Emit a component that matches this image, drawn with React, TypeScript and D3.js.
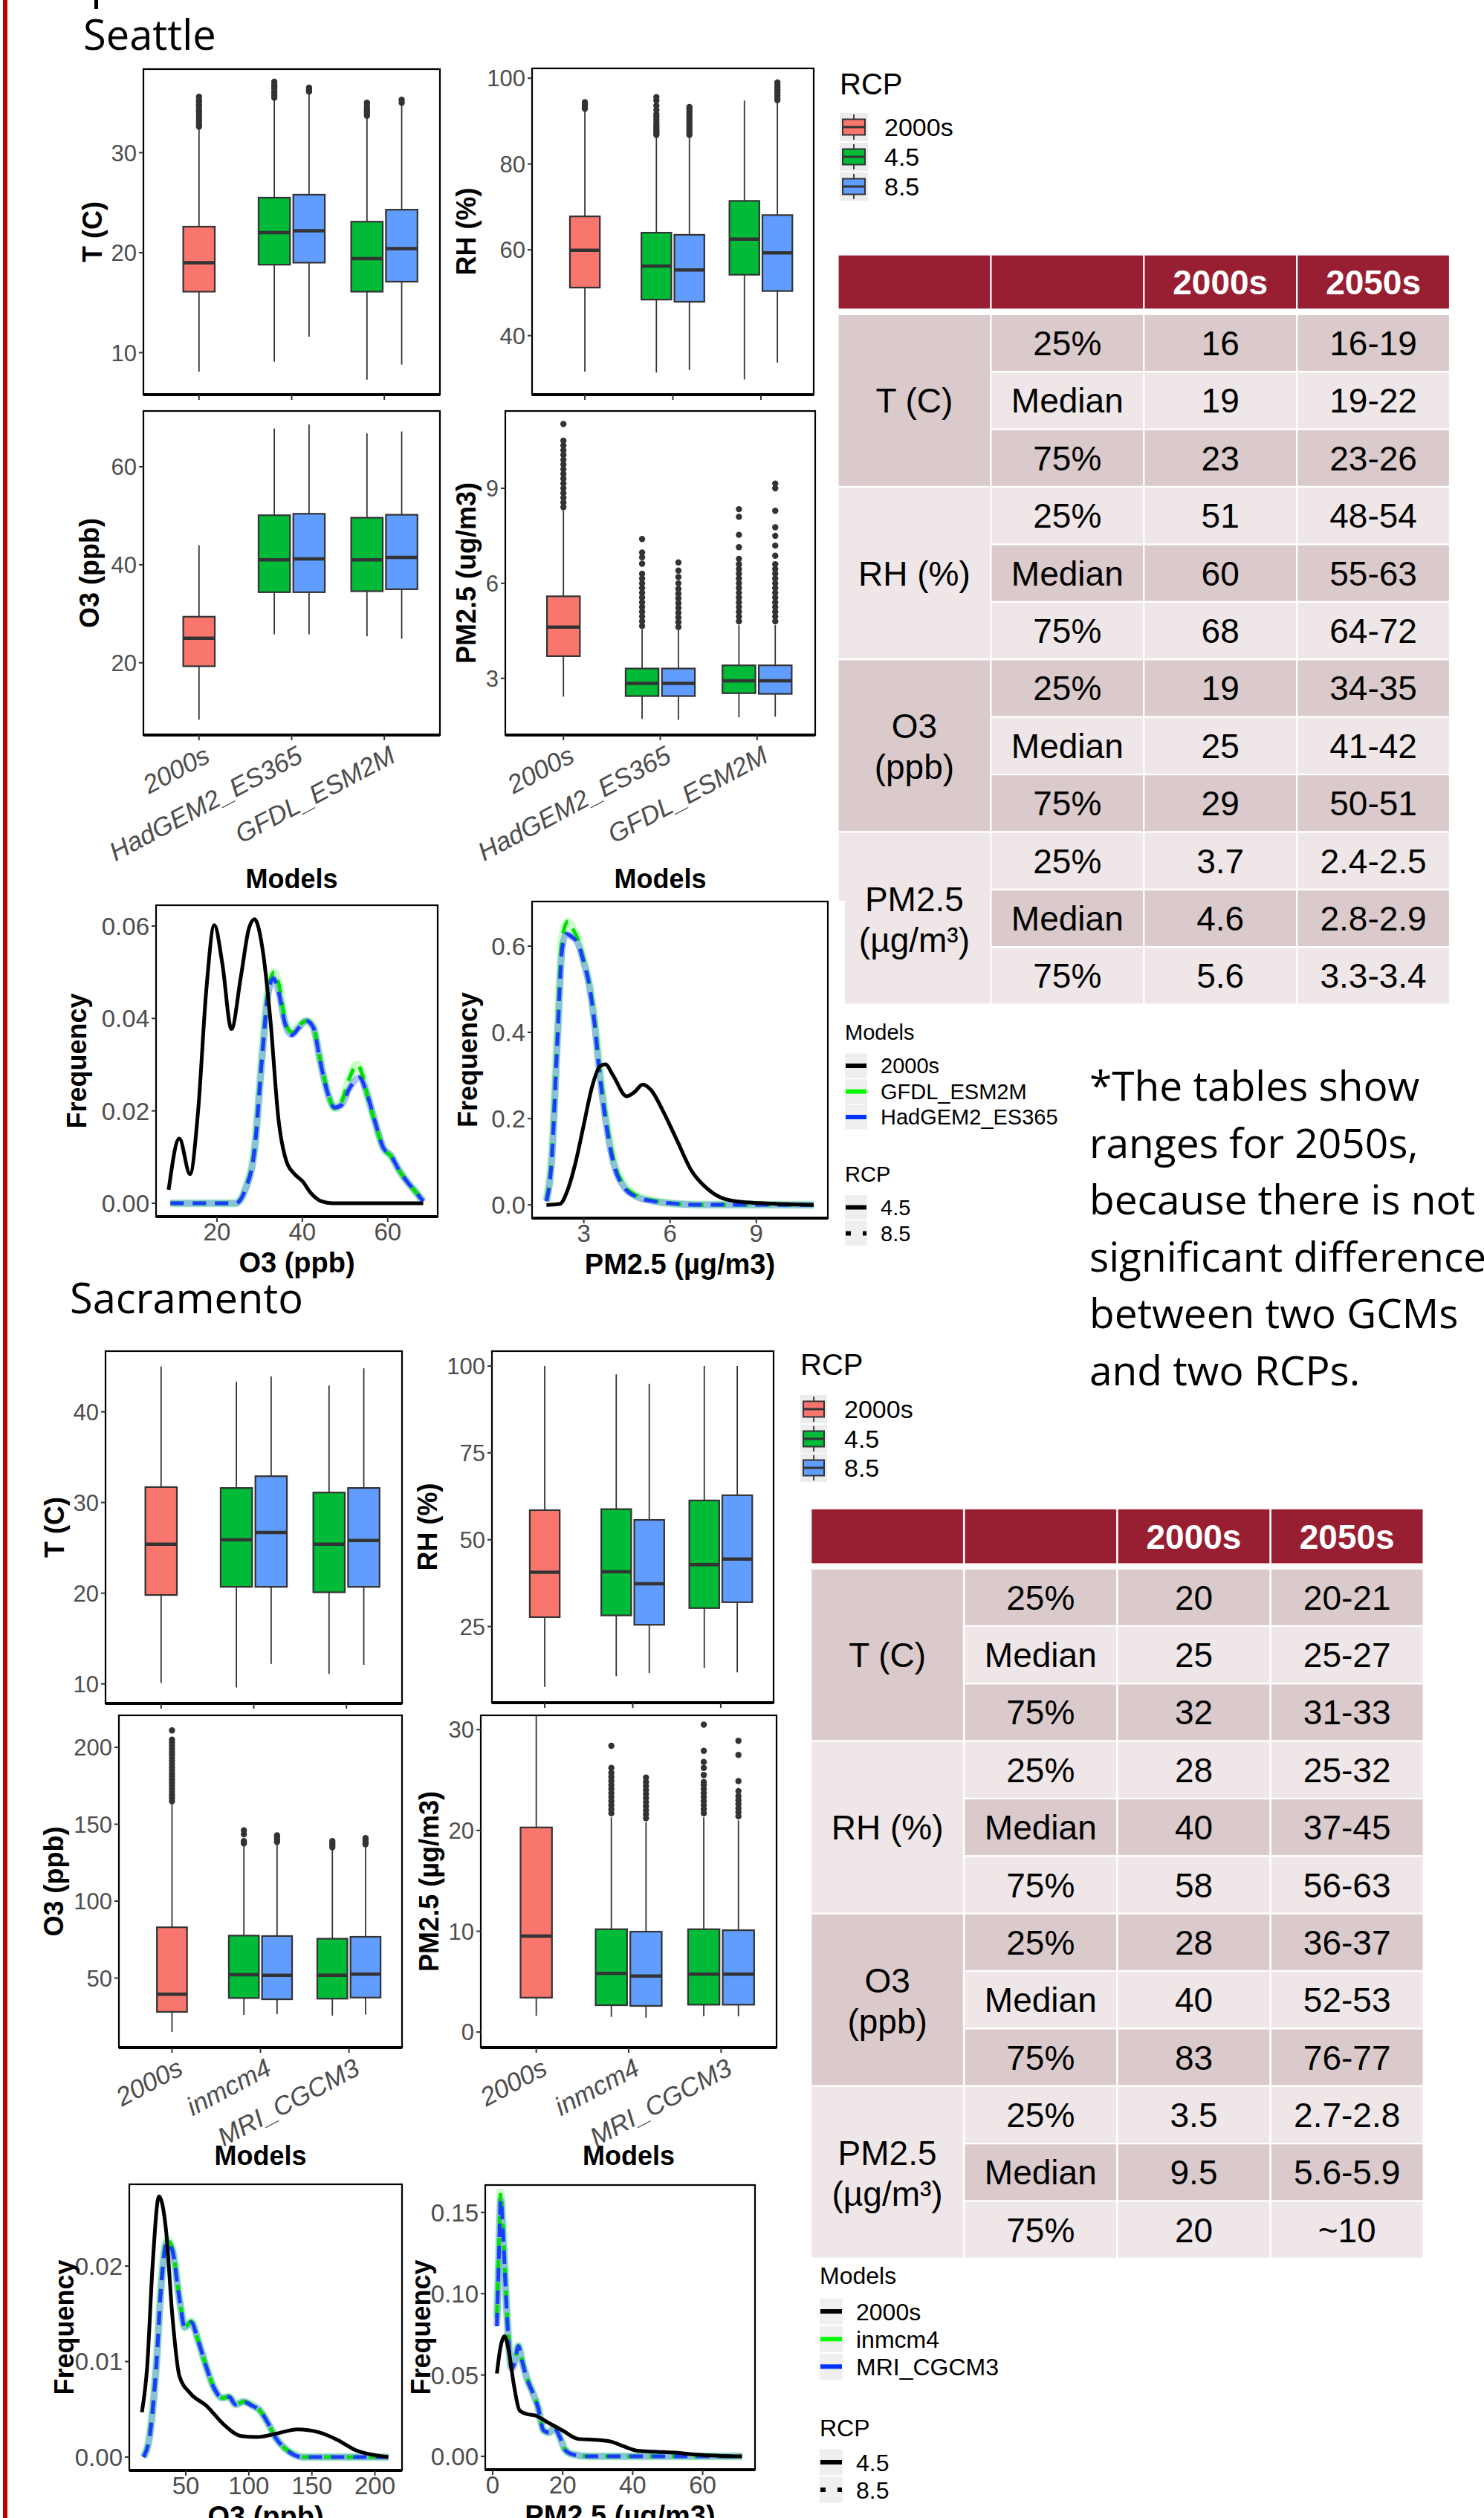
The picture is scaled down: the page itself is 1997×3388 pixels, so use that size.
import React from 'react';
import * as d3 from 'd3';

const W = 1997;
const H = 3388;
const FONT = '"Liberation Sans", Arial, Helvetica, sans-serif';
const SLIDE_FONT = '"Open Sans", "Noto Sans", sans-serif';
const AXIS_GREY = '#4d4d4d';
const INK = '#333333';

// ---------- groups / legends
const rcpLevels = ['2000s', '4.5', '8.5'];
const rcpFills = ['#F8766D', '#00BA38', '#619CFF'];
// order of boxes in every panel: 2000s, model1 4.5, model1 8.5, model2 4.5, model2 8.5
const boxCategory = [1, 2, 2, 3, 3];
const boxRcp = [0, 1, 2, 1, 2];

const seaModels = ['2000s', 'HadGEM2_ES365', 'GFDL_ESM2M'];
const sacModels = ['2000s', 'inmcm4', 'MRI_CGCM3'];
const seaLineModels = ['2000s', 'GFDL_ESM2M', 'HadGEM2_ES365'];
const sacLineModels = ['2000s', 'inmcm4', 'MRI_CGCM3'];
const lineColors = ['#000000', '#00ff00', '#0033ff'];

// ---------- Seattle box stats: [lower whisker, Q1, median, Q3, upper whisker]
const seaTBoxes = [
  [8.1, 16.1, 19.0, 22.6, 32.3],
  [9.1, 18.8, 22.0, 25.5, 35.3],
  [11.6, 19.0, 22.2, 25.8, 35.9],
  [7.3, 16.1, 19.4, 23.1, 33.5],
  [8.8, 17.1, 20.4, 24.3, 34.8],
];
const seaTOutliers = [
  [32.6, 32.8, 33.1, 33.3, 33.6, 33.8, 34.1, 34.3, 34.6, 34.8, 35.1, 35.3, 35.6],
  [35.5, 35.7, 35.9, 36.1, 36.4, 36.6, 36.8, 37.1],
  [36.1, 36.3, 36.5],
  [33.7, 33.9, 34.1, 34.3, 34.5, 34.8, 35.0],
  [35.0, 35.3],
];
const seaRHBoxes = [
  [31.6, 51.2, 59.9, 67.8, 92.6],
  [31.4, 48.4, 56.2, 64.0, 86.5],
  [32.0, 47.9, 55.3, 63.5, 86.5],
  [29.8, 54.2, 62.5, 71.4, 94.8],
  [33.7, 50.4, 59.3, 68.1, 94.6],
];
const seaRHOutliers = [
  [92.9, 93.3, 93.7, 94.0, 94.4],
  [86.8, 87.2, 87.6, 88.0, 88.5, 89.0, 89.6, 90.3, 91.0, 91.6, 92.6, 93.6, 94.8, 95.6],
  [86.8, 87.3, 87.8, 88.3, 88.8, 89.3, 89.8, 90.4, 91.0, 91.6, 92.2, 92.8, 93.3],
  [],
  [94.9, 95.4, 96.0, 96.7, 97.3, 97.9, 98.5, 99.0],
];
const seaO3Boxes = [
  [8.4, 19.3, 25.0, 29.4, 44.0],
  [25.8, 34.4, 41.0, 50.1, 67.8],
  [25.8, 34.4, 41.2, 50.4, 68.6],
  [25.4, 34.6, 41.0, 49.6, 66.8],
  [24.9, 35.0, 41.5, 50.2, 67.2],
];
const seaPMBoxes = [
  [2.42, 3.7, 4.62, 5.59, 8.29],
  [1.72, 2.44, 2.84, 3.31, 4.54],
  [1.69, 2.44, 2.84, 3.31, 4.52],
  [1.77, 2.53, 2.92, 3.41, 4.68],
  [1.79, 2.51, 2.92, 3.41, 4.68],
];
const seaPMOutliers = [
  [8.4, 8.55, 8.7, 8.85, 9.0, 9.15, 9.3, 9.45, 9.6, 9.75, 9.9, 10.05, 10.2, 10.35, 10.5, 11.03],
  [4.65, 4.8, 4.95, 5.1, 5.25, 5.4, 5.55, 5.7, 5.85, 6.0, 6.15, 6.3, 6.62, 6.82, 6.97, 7.4],
  [4.62, 4.77, 4.92, 5.07, 5.22, 5.37, 5.52, 5.67, 5.82, 6.0, 6.2, 6.4, 6.66],
  [4.8, 4.95, 5.1, 5.25, 5.4, 5.55, 5.7, 5.85, 6.0, 6.15, 6.3, 6.45, 6.6, 6.77, 7.14, 7.53, 8.1, 8.34],
  [4.8, 4.95, 5.1, 5.25, 5.4, 5.55, 5.7, 5.85, 6.0, 6.15, 6.3, 6.45, 6.6, 6.87, 7.19, 7.5, 7.77, 8.29, 9.0, 9.15],
];

// ---------- Sacramento box stats
const sacTBoxes = [
  [10.1, 19.8, 25.4, 31.7, 45.0],
  [9.6, 20.7, 25.9, 31.6, 43.3],
  [12.2, 20.7, 26.7, 32.9, 43.9],
  [11.1, 20.1, 25.4, 31.1, 42.9],
  [12.1, 20.7, 25.8, 31.6, 44.8],
];
const sacRHBoxes = [
  [7.6, 27.7, 40.6, 58.5, 100],
  [10.7, 28.2, 40.8, 58.8, 97.6],
  [11.6, 25.5, 37.3, 55.7, 94.9],
  [13.1, 30.3, 42.8, 61.3, 100],
  [11.8, 32.0, 44.4, 62.8, 100],
];
const sacO3Boxes = [
  [14.9, 28.0, 39.5, 83.0, 164],
  [26.0, 37.0, 52.2, 77.6, 136.4],
  [26.5, 36.2, 51.8, 77.3, 137.7],
  [25.6, 36.6, 51.8, 75.6, 134.1],
  [26.3, 37.3, 52.5, 76.8, 136.0],
];
const sacO3Outliers = [
  [165, 167, 169, 171, 173, 175, 177, 179, 181, 183, 185, 187, 189, 191, 193, 195, 197, 199, 201, 203, 205, 211],
  [137.5, 139, 143.5, 146],
  [138.5, 140, 141.5, 142.8],
  [135, 136.3, 137.6, 139],
  [137, 138.3, 139.6, 141],
];
const sacPMBoxes = [
  [1.6, 3.41, 9.52, 20.3, 45],
  [1.5, 2.66, 5.82, 10.2, 21.3],
  [1.42, 2.59, 5.56, 9.96, 20.8],
  [1.56, 2.71, 5.74, 10.2, 21.3],
  [1.56, 2.71, 5.74, 10.1, 21.0],
];
const sacPMOutliers = [
  [],
  [21.7, 22.1, 22.5, 22.9, 23.3, 23.7, 24.1, 24.5, 24.9, 25.3, 25.7, 26.2, 28.4],
  [21.2, 21.6, 22.0, 22.4, 22.8, 23.2, 23.6, 24.0, 24.4, 24.8, 25.25],
  [21.7, 22.1, 22.5, 22.9, 23.3, 23.7, 24.1, 24.5, 24.8, 25.5, 26.2, 26.8, 27.9, 30.5],
  [21.4, 21.8, 22.2, 22.6, 23.0, 23.4, 23.9, 24.9, 27.5, 28.9],
];

// ---------- density curves [value, frequency]
const seaO3Base = [[8.7, 0.0029], [11.2, 0.014], [13.7, 0.0063], [15.6, 0.02], [17.5, 0.046], [19.4, 0.0602], [21.25, 0.052], [23.4, 0.0377], [25.6, 0.049], [27.5, 0.0595], [28.8, 0.0615], [30.65, 0.0552], [32.5, 0.0399], [34.4, 0.0183], [36.3, 0.009], [38.2, 0.0063], [40.1, 0.0047], [41.9, 0.0023], [44.5, 0.0004], [47, 0], [68.3, 0]];
const seaO3Gfdl = [[9.1, 0], [24.4, 0], [26.6, 0.003], [28.8, 0.012], [30.65, 0.033], [31.9, 0.0455], [33.4, 0.05], [34.6, 0.047], [36.05, 0.039], [37.55, 0.037], [39.2, 0.0385], [41.0, 0.0395], [42.6, 0.038], [44.2, 0.031], [45.95, 0.024], [47.6, 0.0205], [49.2, 0.022], [51.0, 0.027], [52.8, 0.03], [54.0, 0.028], [55.3, 0.023], [57.0, 0.0175], [58.9, 0.012], [60.75, 0.0102], [62.6, 0.0072], [64.5, 0.0047], [66.4, 0.0026], [68.3, 0.0004]];
const seaO3Had = [[9.1, 0], [24.4, 0], [26.6, 0.0029], [28.8, 0.0115], [30.65, 0.0324], [31.9, 0.0447], [33.2, 0.0487], [34.4, 0.0459], [36.05, 0.0386], [37.55, 0.0364], [39.2, 0.038], [40.9, 0.0395], [42.6, 0.038], [44.2, 0.0306], [45.95, 0.0238], [47.6, 0.0207], [49.2, 0.0213], [51.0, 0.0248], [53.4, 0.0272], [55.1, 0.0238], [57.0, 0.0177], [58.9, 0.0121], [60.75, 0.0103], [62.6, 0.0072], [64.5, 0.0047], [66.4, 0.0026], [68.3, 0.0004]];
const seaPMBase = [[1.7, 0], [2.16, 0.002], [2.44, 0.035], [2.72, 0.1], [3.0, 0.186], [3.28, 0.272], [3.56, 0.321], [3.75, 0.326], [4.02, 0.3], [4.49, 0.252], [4.77, 0.262], [5.05, 0.279], [5.33, 0.267], [5.79, 0.213], [6.26, 0.147], [6.73, 0.081], [7.29, 0.038], [7.75, 0.0175], [8.4, 0.0075], [9.15, 0.004], [10.08, 0.0014], [11.0, 0]];
const seaPMGfdl = [[1.7, 0.01], [1.88, 0.11], [2.07, 0.38], [2.25, 0.62], [2.45, 0.657], [2.62, 0.64], [2.8, 0.615], [3.0, 0.565], [3.19, 0.512], [3.37, 0.43], [3.56, 0.31], [3.75, 0.21], [4.02, 0.108], [4.4, 0.046], [4.86, 0.021], [5.42, 0.01], [6.17, 0.003], [6.91, 0.0005], [11.0, 0]];
const seaPMHad = [[1.7, 0.0085], [1.88, 0.1], [2.07, 0.364], [2.25, 0.595], [2.4, 0.628], [2.59, 0.621], [2.78, 0.608], [3.0, 0.562], [3.19, 0.509], [3.37, 0.423], [3.56, 0.298], [3.75, 0.2], [4.02, 0.1], [4.4, 0.041], [4.86, 0.018], [5.42, 0.0085], [6.17, 0.003], [6.91, 0.0005], [11.0, 0]];

const sacO3Base = [[15.2, 0.0047], [19.4, 0.0095], [23.6, 0.0199], [28.75, 0.0273], [34.3, 0.0238], [39.4, 0.0147], [44.9, 0.0085], [53.4, 0.0067], [66.1, 0.0054], [81.0, 0.0033], [93.8, 0.0022], [106.5, 0.0021], [123.5, 0.0025], [138.4, 0.0029], [155.4, 0.0026], [170.3, 0.0018], [185.1, 0.0007], [200, 0.0002], [210.6, 0]];
const sacO3Inm = [[16.4, 0], [21.5, 0.0025], [26.6, 0.0098], [30.9, 0.019], [35.1, 0.0228], [39.4, 0.0218], [44.9, 0.0167], [49.2, 0.0136], [54.25, 0.0142], [59.8, 0.0122], [66.1, 0.0095], [72.5, 0.0072], [78.9, 0.0062], [84.4, 0.0063], [89.5, 0.0055], [95.9, 0.0058], [102.3, 0.0055], [108.6, 0.0049], [115.0, 0.0036], [121.4, 0.002], [127.8, 0.001], [136.3, 0.0003], [142.6, 0], [210.6, 0]];
const sacO3Mri = [[16.4, 0], [21.5, 0.0023], [26.6, 0.0095], [30.9, 0.0186], [35.1, 0.0225], [39.4, 0.0216], [44.9, 0.0166], [49.2, 0.0136], [54.25, 0.0141], [59.8, 0.0122], [66.1, 0.0095], [72.5, 0.0072], [78.9, 0.0062], [84.4, 0.0063], [89.5, 0.0055], [95.9, 0.0058], [102.3, 0.0054], [108.6, 0.0049], [115.0, 0.0036], [121.4, 0.002], [127.8, 0.001], [136.3, 0.0002], [142.6, 0], [210.6, 0]];
const sacPMBase = [[1.2, 0.051], [2.3, 0.0678], [3.4, 0.0739], [4.6, 0.0648], [6.1, 0.0434], [7.7, 0.0282], [10.0, 0.0259], [12.25, 0.0251], [15.3, 0.0214], [19.9, 0.016], [24.5, 0.0107], [29.1, 0.0102], [33.7, 0.0091], [37.5, 0.0061], [41.3, 0.0035], [45.9, 0.0029], [52.1, 0.0023], [58.2, 0.0011], [71.2, 0]];
const sacPMInm = [[1.2, 0.085], [1.8, 0.128], [2.3, 0.162], [3.06, 0.135], [4.1, 0.088], [5.4, 0.055], [6.4, 0.059], [7.35, 0.068], [8.4, 0.059], [10.0, 0.047], [11.5, 0.039], [13.0, 0.03], [14.5, 0.016], [16.1, 0.0146], [17.6, 0.0175], [19.1, 0.0123], [20.7, 0.004], [23.0, 0.0011], [27.6, 0], [71.2, 0]];
const sacPMMri = [[1.2, 0.08], [1.8, 0.124], [2.3, 0.158], [3.06, 0.132], [4.1, 0.086], [5.4, 0.054], [6.4, 0.0586], [7.35, 0.0678], [8.4, 0.0586], [10.0, 0.0465], [11.5, 0.0389], [13.0, 0.0297], [14.5, 0.016], [16.1, 0.0146], [17.6, 0.0175], [19.1, 0.0123], [20.7, 0.004], [23.0, 0.0011], [27.6, 0], [71.2, 0]];

// ---------- tables
const tableStats = ['25%', 'Median', '75%'];
const tableHead = ['2000s', '2050s'];
const tableVars = [['T (C)'], ['RH (%)'], ['O3', '(ppb)'], ['PM2.5', '(µg/m³)']];
const sea2000s = ['16', '19', '23', '51', '60', '68', '19', '25', '29', '3.7', '4.6', '5.6'];
const sea2050s = ['16-19', '19-22', '23-26', '48-54', '55-63', '64-72', '34-35', '41-42', '50-51', '2.4-2.5', '2.8-2.9', '3.3-3.4'];
const sac2000s = ['20', '25', '32', '28', '40', '58', '28', '40', '83', '3.5', '9.5', '20'];
const sac2050s = ['20-21', '25-27', '31-33', '25-32', '37-45', '56-63', '36-37', '52-53', '76-77', '2.7-2.8', '5.6-5.9', '~10'];
const noteLines = ['*The tables show', 'ranges for 2050s,', 'because there is not', 'significant difference', 'between two GCMs', 'and two RCPs.'];

const HEAD_FILL = '#981e32';
const DARK_FILL = '#dbcacc';
const LIGHT_FILL = '#efe6e7';

type BoxPanelProps = {
  id: string;
  rect: number[];
  domain: number[];
  ticks: number[];
  boxes: number[][];
  outliers?: number[][];
  yTitle: string;
  yTitleX: number;
  categories?: string[];
  xTitleY?: number;
};

const BoxPanel = ({ id, rect, domain, ticks, boxes, outliers, yTitle, yTitleX, categories, xTitleY }: BoxPanelProps) => {
  const [L, T, R, B] = rect;
  const x = d3.scaleLinear().domain([0.4, 3.6]).range([L, R]);
  const y = d3.scaleLinear().domain(domain).range([B, T]);
  const half = x(0.57) - x(0.4);
  const dodge = [0, -0.1875, 0.1875];
  return (
    <g>
      <clipPath id={id}>
        <rect x={L} y={T} width={R - L} height={B - T} />
      </clipPath>
      <g clipPath={`url(#${id})`}>
        {boxes.map((s, i) => {
          const cx = x(boxCategory[i] + dodge[boxRcp[i]]);
          return (
            <g key={i}>
              <line x1={cx} x2={cx} y1={y(s[3])} y2={y(s[4])} stroke={INK} strokeWidth={1.8} />
              <line x1={cx} x2={cx} y1={y(s[1])} y2={y(s[0])} stroke={INK} strokeWidth={1.8} />
              <rect x={cx - half} y={y(s[3])} width={half * 2} height={y(s[1]) - y(s[3])}
                fill={rcpFills[boxRcp[i]]} stroke={INK} strokeWidth={2.2} />
              <line x1={cx - half} x2={cx + half} y1={y(s[2])} y2={y(s[2])} stroke={INK} strokeWidth={4.5} />
              {(outliers?.[i] ?? []).map((v, j) => (
                <circle key={j} cx={cx} cy={y(v)} r={4.2} fill={INK} />
              ))}
            </g>
          );
        })}
      </g>
      <rect x={L} y={T} width={R - L} height={B - T} fill="none" stroke="#000" strokeWidth={2.2} />
      <line x1={L} x2={R} y1={B} y2={B} stroke="#000" strokeWidth={4} />
      {ticks.map((t) => (
        <g key={t}>
          <line x1={L - 6} x2={L} y1={y(t)} y2={y(t)} stroke={INK} strokeWidth={2} />
          <text x={L - 9} y={y(t)} dy="0.36em" textAnchor="end" fontSize={31} fill={AXIS_GREY}>{t}</text>
        </g>
      ))}
      {[1, 2, 3].map((c) => (
        <line key={c} x1={x(c)} x2={x(c)} y1={B} y2={B + 7} stroke={INK} strokeWidth={2} />
      ))}
      {categories && categories.map((c, i) => (
        <text key={c} transform={`translate(${x(i + 1) + 17},${B + 35}) rotate(-28)`} textAnchor="end"
          fontSize={35} fontStyle="italic" fill={AXIS_GREY}>{c}</text>
      ))}
      {categories && (
        <text x={(L + R) / 2} y={xTitleY} textAnchor="middle" fontSize={36} fontWeight="bold">Models</text>
      )}
      <text transform={`translate(${yTitleX},${(T + B) / 2}) rotate(-90)`} textAnchor="middle"
        dominantBaseline="central" fontSize={36} fontWeight="bold">{yTitle}</text>
    </g>
  );
};

type DensityProps = {
  id: string;
  rect: number[];
  xDomain: number[];
  yDomain: number[];
  xTicks: number[];
  yTicks: number[];
  yFormat: string;
  base: number[][];
  modelA: number[][];
  modelB: number[][];
  xTitle: string;
  yTitleX: number;
};

const DensityPanel = ({ id, rect, xDomain, yDomain, xTicks, yTicks, yFormat, base, modelA, modelB, xTitle, yTitleX }: DensityProps) => {
  const [L, T, R, B] = rect;
  const x = d3.scaleLinear().domain(xDomain).range([L, R]);
  const y = d3.scaleLinear().domain(yDomain).range([B, T]);
  const line = d3.line<number[]>().x((d) => x(d[0])).y((d) => y(d[1])).curve(d3.curveMonotoneX);
  const fmt = d3.format(yFormat);
  return (
    <g>
      <rect x={L} y={T} width={R - L} height={B - T} fill="#fff" />
      <clipPath id={id}>
        <rect x={L} y={T} width={R - L} height={B - T} />
      </clipPath>
      <g clipPath={`url(#${id})`} fill="none">
        <path d={line(modelA) ?? ''} stroke={lineColors[1]} strokeOpacity={0.22} strokeWidth={11} />
        <path d={line(modelB) ?? ''} stroke={lineColors[2]} strokeOpacity={0.3} strokeWidth={9} />
        <path d={line(modelA) ?? ''} stroke="#00e000" strokeWidth={5} strokeDasharray="18 12" />
        <path d={line(modelB) ?? ''} stroke="#1a3cff" strokeWidth={5} strokeDasharray="18 12" />
        <path d={line(base) ?? ''} stroke="#000" strokeWidth={5} />
      </g>
      <rect x={L} y={T} width={R - L} height={B - T} fill="none" stroke="#000" strokeWidth={2.2} />
      <line x1={L} x2={R} y1={B} y2={B} stroke="#000" strokeWidth={4} />
      {yTicks.map((t) => (
        <g key={t}>
          <line x1={L - 6} x2={L} y1={y(t)} y2={y(t)} stroke={INK} strokeWidth={2} />
          <text x={L - 9} y={y(t)} dy="0.36em" textAnchor="end" fontSize={33} fill={AXIS_GREY}>{fmt(t)}</text>
        </g>
      ))}
      {xTicks.map((t) => (
        <g key={t}>
          <line x1={x(t)} x2={x(t)} y1={B} y2={B + 7} stroke={INK} strokeWidth={2} />
          <text x={x(t)} y={B + 32} textAnchor="middle" fontSize={33} fill={AXIS_GREY}>{t}</text>
        </g>
      ))}
      <text x={(L + R) / 2} y={B + 75} textAnchor="middle" fontSize={38} fontWeight="bold">{xTitle}</text>
      <text transform={`translate(${yTitleX},${(T + B) / 2}) rotate(-90)`} textAnchor="middle"
        dominantBaseline="central" fontSize={36} fontWeight="bold">Frequency</text>
    </g>
  );
};

const BoxLegend = ({ x, titleY, rowY, labelX, keyW, keyH }: { x: number; titleY: number; rowY: number[]; labelX: number; keyW: number; keyH: number }) => (
  <g>
    <text x={x} y={titleY} fontSize={40}>RCP</text>
    {rcpLevels.map((lv, i) => {
      const cy = rowY[i];
      const cx = x + keyW / 2;
      return (
        <g key={lv}>
          <rect x={x} y={cy - keyH / 2} width={keyW} height={keyH} fill="#ececec" />
          <line x1={cx} x2={cx} y1={cy - keyH / 2 + 2} y2={cy + keyH / 2 - 2} stroke={INK} strokeWidth={1.8} />
          <rect x={x + 4} y={cy - 10.5} width={keyW - 8} height={21} fill={rcpFills[i]} stroke={INK} strokeWidth={2} />
          <line x1={x + 4} x2={x + keyW - 4} y1={cy} y2={cy} stroke={INK} strokeWidth={3} />
          <text x={labelX} y={cy} dy="0.36em" fontSize={34}>{lv}</text>
        </g>
      );
    })}
  </g>
);

type LineLegendProps = {
  x: number; titleY: number; rowY: number[]; labelX: number; keyW: number; keyH: number;
  fontSize: number; names: string[]; rcpTitleY: number; rcpRowY: number[];
};

const LineLegend = ({ x, titleY, rowY, labelX, keyW, keyH, fontSize, names, rcpTitleY, rcpRowY }: LineLegendProps) => (
  <g>
    <text x={x} y={titleY} fontSize={fontSize}>Models</text>
    {names.map((n, i) => (
      <g key={n}>
        <rect x={x} y={rowY[i] - keyH / 2} width={keyW} height={keyH} fill="#efefef" />
        <line x1={x + 1} x2={x + keyW - 1} y1={rowY[i]} y2={rowY[i]} stroke={lineColors[i]} strokeWidth={6} />
        <text x={labelX} y={rowY[i]} dy="0.36em" fontSize={fontSize}>{n}</text>
      </g>
    ))}
    <text x={x} y={rcpTitleY} fontSize={fontSize}>RCP</text>
    {rcpLevels.slice(1).map((lv, i) => (
      <g key={lv}>
        <rect x={x} y={rcpRowY[i] - keyH / 2} width={keyW} height={keyH} fill="#efefef" />
        <line x1={x + 1} x2={x + keyW - 1} y1={rcpRowY[i]} y2={rcpRowY[i]} stroke="#000"
          strokeWidth={6} strokeDasharray={i === 0 ? undefined : '7 16'} />
        <text x={labelX} y={rcpRowY[i]} dy="0.36em" fontSize={fontSize}>{lv}</text>
      </g>
    ))}
  </g>
);

type TableProps = {
  x0: number; colPitch: number; colW: number; headTop: number; headH: number;
  bodyTop: number; rowPitch: number; rowH: number; v2000: string[]; v2050: string[];
};

const StatsTable = ({ x0, colPitch, colW, headTop, headH, bodyTop, rowPitch, rowH, v2000, v2050 }: TableProps) => {
  const cols = d3.range(4).map((i) => x0 + i * colPitch);
  return (
    <g fontSize={46}>
      {cols.map((cx, i) => (
        <rect key={i} x={cx} y={headTop} width={colW} height={headH} fill={HEAD_FILL} />
      ))}
      {tableHead.map((h, i) => (
        <text key={h} x={cols[i + 2] + colW / 2} y={headTop + headH / 2} dy="0.36em" textAnchor="middle"
          fill="#fff" fontWeight="bold">{h}</text>
      ))}
      {tableVars.map((v, g) => {
        const top = bodyTop + g * 3 * rowPitch;
        const h = 3 * rowPitch - (rowPitch - rowH);
        const cy = top + h / 2;
        return (
          <g key={g}>
            <rect x={cols[0]} y={top} width={colW} height={h} fill={g % 2 === 0 ? DARK_FILL : LIGHT_FILL} />
            {v.length === 1 ? (
              <text x={cols[0] + colW / 2} y={cy} dy="0.36em" textAnchor="middle">{v[0]}</text>
            ) : (
              <g>
                <text x={cols[0] + colW / 2} y={cy - 10} textAnchor="middle">{v[0]}</text>
                <text x={cols[0] + colW / 2} y={cy + 45} textAnchor="middle">{v[1]}</text>
              </g>
            )}
          </g>
        );
      })}
      {v2000.map((val, r) => {
        const top = bodyTop + r * rowPitch;
        const fill = r % 2 === 0 ? DARK_FILL : LIGHT_FILL;
        const cy = top + rowH / 2;
        const cells = [tableStats[r % 3], val, v2050[r]];
        return (
          <g key={r}>
            {cells.map((c, k) => (
              <g key={k}>
                <rect x={cols[k + 1]} y={top} width={colW} height={rowH} fill={fill} />
                <text x={cols[k + 1] + colW / 2} y={cy} dy="0.36em" textAnchor="middle">{c}</text>
              </g>
            ))}
          </g>
        );
      })}
    </g>
  );
};

export default function App() {
  return (
    <svg width={W} height={H} style={{ position: 'absolute', left: 0, top: 0, background: '#fff' }}
      fontFamily={FONT}>
      <rect x={0} y={0} width={W} height={H} fill="#fff" />
      <rect x={4} y={0} width={6} height={H} fill="#c00000" />
      <rect x={127} y={0} width={5} height={12} fill="#000" />

      <text x={112} y={67} fontFamily={SLIDE_FONT} fontSize={56}>Seattle</text>
      <text x={94} y={1767} fontFamily={SLIDE_FONT} fontSize={56}>Sacramento</text>

      {/* ---------------- Seattle */}
      <StatsTable x0={1128.6} colPitch={205.9} colW={203.6} headTop={343.7} headH={71.5}
        bodyTop={424} rowPitch={77.4} rowH={75} v2000={sea2000s} v2050={sea2050s} />
      <rect x={1114} y={1212} width={23} height={142} fill="#fff" />

      <BoxPanel id="seaT" rect={[193, 93, 592, 531]} domain={[5.8, 38.36]} ticks={[10, 20, 30]}
        boxes={seaTBoxes} outliers={seaTOutliers} yTitle="T (C)" yTitleX={124} />
      <BoxPanel id="seaRH" rect={[716, 92, 1095, 531]} domain={[26.25, 102.29]} ticks={[40, 60, 80, 100]}
        boxes={seaRHBoxes} outliers={seaRHOutliers} yTitle="RH (%)" yTitleX={627} />
      <BoxPanel id="seaO3" rect={[193, 553, 592, 989]} domain={[5.26, 71.37]} ticks={[20, 40, 60]}
        boxes={seaO3Boxes} yTitle="O3 (ppb)" yTitleX={120} categories={seaModels} xTitleY={1195} />
      <BoxPanel id="seaPM" rect={[680, 553, 1097, 989]} domain={[1.21, 11.44]} ticks={[3, 6, 9]}
        boxes={seaPMBoxes} outliers={seaPMOutliers} yTitle="PM2.5 (ug/m3)" yTitleX={627}
        categories={seaModels} xTitleY={1195} />
      <BoxLegend x={1130} titleY={127} rowY={[171, 211, 251]} labelX={1190} keyW={38} keyH={38} />

      <DensityPanel id="seaO3d" rect={[210, 1218, 589, 1637]} xDomain={[5.75, 71.69]} yDomain={[-0.0029, 0.0645]}
        xTicks={[20, 40, 60]} yTicks={[0, 0.02, 0.04, 0.06]} yFormat=".2f"
        base={seaO3Base} modelA={seaO3Gfdl} modelB={seaO3Had} xTitle="O3 (ppb)" yTitleX={103} />
      <DensityPanel id="seaPMd" rect={[716, 1213, 1114, 1639]} xDomain={[1.2, 11.49]} yDomain={[-0.0307, 0.7034]}
        xTicks={[3, 6, 9]} yTicks={[0, 0.2, 0.4, 0.6]} yFormat=".1f"
        base={seaPMBase} modelA={seaPMGfdl} modelB={seaPMHad} xTitle="PM2.5 (µg/m3)" yTitleX={629} />
      <LineLegend x={1137} titleY={1399} rowY={[1434, 1468.7, 1503]} labelX={1185} keyW={30} keyH={33}
        fontSize={29} names={seaLineModels} rcpTitleY={1590} rcpRowY={[1624.5, 1659.4]} />

      <g fontFamily={SLIDE_FONT} fontSize={55}>
        {noteLines.map((l, i) => (
          <text key={i} x={1466} y={1481 + i * 76.6}>{l}</text>
        ))}
      </g>

      {/* ---------------- Sacramento */}
      <StatsTable x0={1092.3} colPitch={206.2} colW={203.6} headTop={2030.8} headH={72.6}
        bodyTop={2111.7} rowPitch={77.36} rowH={75} v2000={sac2000s} v2050={sac2050s} />

      <BoxPanel id="sacT" rect={[142, 1818, 541, 2292]} domain={[7.84, 46.69]} ticks={[10, 20, 30, 40]}
        boxes={sacTBoxes} yTitle="T (C)" yTitleX={73} />
      <BoxPanel id="sacRH" rect={[662, 1818, 1041, 2291]} domain={[3.07, 104.28]} ticks={[25, 50, 75, 100]}
        boxes={sacRHBoxes} yTitle="RH (%)" yTitleX={575} />
      <BoxPanel id="sacO3" rect={[160, 2308, 541, 2755]} domain={[4.83, 220.77]} ticks={[50, 100, 150, 200]}
        boxes={sacO3Boxes} outliers={sacO3Outliers} yTitle="O3 (ppb)" yTitleX={72}
        categories={sacModels} xTitleY={2913} />
      <BoxPanel id="sacPM" rect={[647, 2308, 1045, 2755]} domain={[-1.54, 31.42]} ticks={[0, 10, 20, 30]}
        boxes={sacPMBoxes} outliers={sacPMOutliers} yTitle="PM2.5 (µg/m3)" yTitleX={577}
        categories={sacModels} xTitleY={2913} />
      <BoxLegend x={1077} titleY={1850} rowY={[1896, 1936, 1975]} labelX={1136} keyW={36} keyH={38} />

      <DensityPanel id="sacO3d" rect={[174, 2939, 541, 3324]} xDomain={[5.2, 221.5]} yDomain={[-0.0014, 0.02856]}
        xTicks={[50, 100, 150, 200]} yTicks={[0, 0.01, 0.02]} yFormat=".2f"
        base={sacO3Base} modelA={sacO3Inm} modelB={sacO3Mri} xTitle="O3 (ppb)" yTitleX={86} />
      <DensityPanel id="sacPMd" rect={[653, 2940, 1016, 3323]} xDomain={[-2.12, 74.95]} yDomain={[-0.0082, 0.1668]}
        xTicks={[0, 20, 40, 60]} yTicks={[0, 0.05, 0.1, 0.15]} yFormat=".2f"
        base={sacPMBase} modelA={sacPMInm} modelB={sacPMMri} xTitle="PM2.5 (µg/m3)" yTitleX={566} />
      <LineLegend x={1103} titleY={3073} rowY={[3110, 3147.3, 3184.3]} labelX={1152} keyW={31} keyH={35}
        fontSize={32} names={sacLineModels} rcpTitleY={3278} rcpRowY={[3313, 3350]} />
    </svg>
  );
}
